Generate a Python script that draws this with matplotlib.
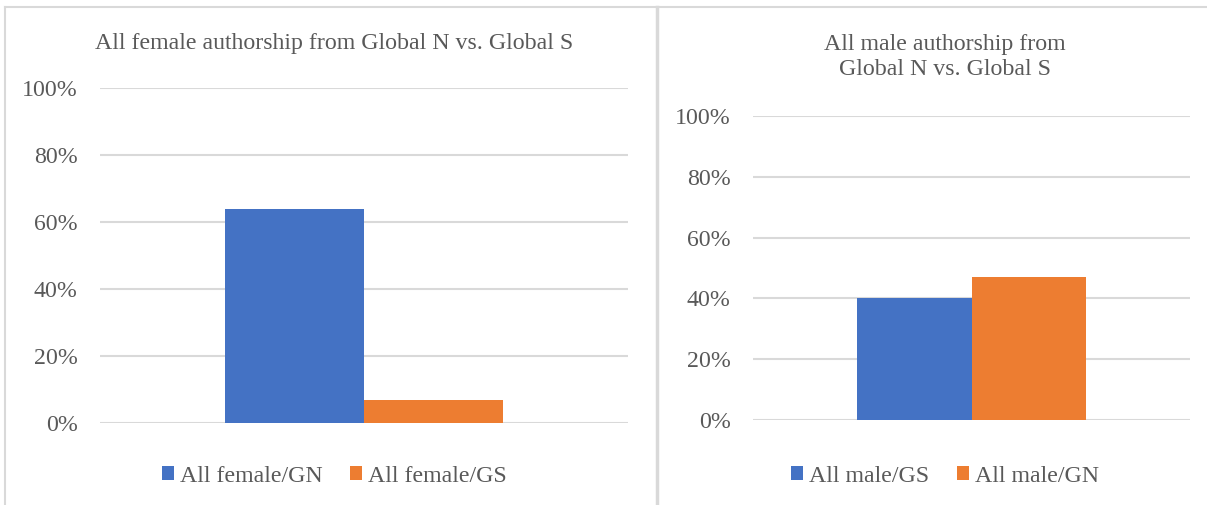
import matplotlib
matplotlib.use("Agg")
import matplotlib.pyplot as plt
from matplotlib.patches import Patch
from matplotlib.lines import Line2D

# Data
left_title = "All female authorship from Global N vs. Global S"
left_labels = ["All female/GN", "All female/GS"]
left_values = [0.64, 0.07]

right_title = "All male authorship from\nGlobal N vs. Global S"
right_labels = ["All male/GS", "All male/GN"]
right_values = [0.40, 0.47]

yticks = [0, 0.2, 0.4, 0.6, 0.8, 1.0]
ytick_labels = ["0%", "20%", "40%", "60%", "80%", "100%"]

colors = ["#4472C4", "#ED7D31"]
text_color = "#595959"
grid_color = "#D9D9D9"

plt.rcParams['font.family'] = ['Liberation Serif', 'DejaVu Serif']
W, H = 1207, 505
fig = plt.figure(figsize=(W / 100, H / 100), dpi=100)
FS = 17.2

def px_axes(x0, y_top, x1, y_bot):
    return fig.add_axes([x0 / W, (H - y_bot) / H, (x1 - x0) / W, (y_bot - y_top) / H])

def draw(ax, labels, values, title, title_x, title_y, leg_y):
    w = 0.263
    for i, (lab, v) in enumerate(zip(labels, values)):
        ax.bar((i - 0.5) * w, v, width=w, color=colors[i], label=lab, zorder=3)
    ax.set_xlim(-0.5, 0.5)
    ax.set_ylim(0, 1.0)
    ax.set_yticks(yticks)
    ax.set_yticklabels(ytick_labels)
    ax.set_xticks([])
    ax.tick_params(axis='y', length=0, pad=16, labelsize=FS, labelcolor=text_color)
    for s in ax.spines.values():
        s.set_visible(False)
    ax.yaxis.grid(True, color=grid_color, linewidth=1.5, zorder=0)
    ax.set_axisbelow(True)
    fig.text(title_x / W, 1 - title_y / H, title, ha='center', va='center',
             fontsize=FS, color=text_color, linespacing=1.27)
    handles = [Patch(facecolor=c, edgecolor='none') for c in colors]
    fig.legend(handles, labels, loc='center', bbox_to_anchor=(title_x / W, 1 - leg_y / H),
               ncol=2, frameon=False, fontsize=FS, labelcolor=text_color,
               handlelength=0.5, handleheight=0.5, handletextpad=0.25,
               columnspacing=1.15)

axL = px_axes(100, 88, 628, 423)
draw(axL, left_labels, left_values, left_title, 334, 44, 476)

axR = px_axes(753, 116, 1190, 420)
draw(axR, right_labels, right_values, right_title, 945, 57, 476)

# panel borders
bc = "#D9D9D9"
fig.add_artist(Line2D([5 / W, 1], [1 - 7 / H, 1 - 7 / H], color=bc, linewidth=1.5))
fig.add_artist(Line2D([5 / W, 5 / W], [0, 1 - 7 / H], color=bc, linewidth=1.5))
fig.add_artist(Line2D([657 / W, 657 / W], [0, 1 - 7 / H], color=bc, linewidth=2.5))

fig.savefig("out.png", dpi=100, facecolor='white')
